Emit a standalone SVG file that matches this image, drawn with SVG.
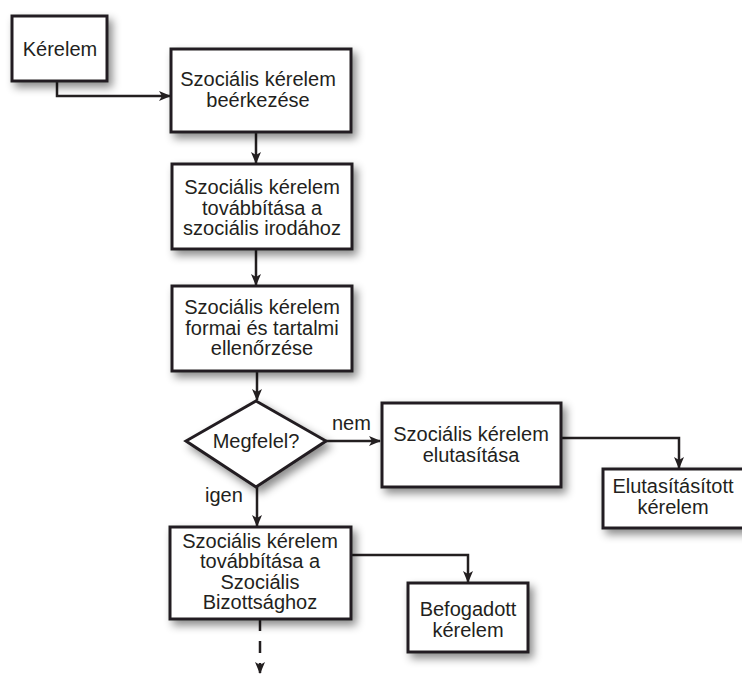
<svg xmlns="http://www.w3.org/2000/svg" width="742" height="674" viewBox="0 0 742 674">
<defs>
<filter id="sh" x="-20%" y="-20%" width="150%" height="160%">
<feDropShadow dx="4" dy="5" stdDeviation="4" flood-color="#000" flood-opacity="0.45"/>
</filter>
<marker id="ah" markerWidth="12" markerHeight="12" viewBox="0 0 12 12" refX="11" refY="6" orient="auto" markerUnits="userSpaceOnUse">
<path d="M0,1 L12,6 L0,11 L3,6 Z" fill="#231f20"/>
</marker>
</defs>
<style>
.box{fill:#fff;stroke:#231f20;stroke-width:3;filter:url(#sh)}
.t{font-family:"Liberation Sans",Arial,sans-serif;font-size:20px;fill:#231f20;text-anchor:middle}
.l{font-family:"Liberation Sans",Arial,sans-serif;font-size:20px;fill:#231f20}
.c{fill:none;stroke:#231f20;stroke-width:2.5;marker-end:url(#ah)}
.d{fill:none;stroke:#231f20;stroke-width:2.5;stroke-dasharray:12 10;marker-end:url(#ah)}
</style>
<rect width="742" height="674" fill="#fff"/>
<g id="connectors">
<path class="c" d="M57,81 V96 H170"/>
<path class="c" d="M256,132 V163"/>
<path class="c" d="M256,249 V285"/>
<path class="c" d="M257,371 V400"/>
<path class="c" d="M326,441 H380"/>
<path class="c" d="M561,438 H679 V468"/>
<path class="c" d="M257,487 V526"/>
<path class="c" d="M350,555 H468 V582"/>
<path class="d" d="M260,619 V673"/>
</g>
<g id="n-kerelem">
<rect class="box" x="12" y="16" width="95" height="65"/>
<text class="t" x="60" y="56">Kérelem</text>
</g>
<g id="n-beerkezes">
<rect class="box" x="171" y="49" width="180" height="83"/>
<text class="t" x="258" y="86">Szociális kérelem</text>
<text class="t" x="258" y="107">beérkezése</text>
</g>
<g id="n-tovabbitas-iroda">
<rect class="box" x="172" y="164" width="180" height="85"/>
<text class="t" x="262" y="194">Szociális kérelem</text>
<text class="t" x="262" y="214.5">továbbítása a</text>
<text class="t" x="262" y="235">szociális irodához</text>
</g>
<g id="n-ellenorzes">
<rect class="box" x="172" y="286" width="180" height="85"/>
<text class="t" x="262" y="314">Szociális kérelem</text>
<text class="t" x="262" y="334.5">formai és tartalmi</text>
<text class="t" x="262" y="355">ellenőrzése</text>
</g>
<g id="n-megfelel">
<polygon class="box" points="256,401 326,441 256,487 186,441"/>
<text class="t" x="256" y="448">Megfelel?</text>
</g>
<g id="n-elutasitas">
<rect class="box" x="382" y="403" width="179" height="84"/>
<text class="t" x="471" y="441">Szociális kérelem</text>
<text class="t" x="471" y="462">elutasítása</text>
</g>
<g id="n-elutasitott">
<rect class="box" x="603" y="469" width="160" height="59"/>
<text class="t" x="673" y="493">Elutasításított</text>
<text class="t" x="673" y="514">kérelem</text>
</g>
<g id="n-bizottsag">
<rect class="box" x="170" y="527" width="181" height="92"/>
<text class="t" x="260" y="547.5">Szociális kérelem</text>
<text class="t" x="260" y="568">továbbítása a</text>
<text class="t" x="260" y="588.5">Szociális</text>
<text class="t" x="260" y="609">Bizottsághoz</text>
</g>
<g id="n-befogadott">
<rect class="box" x="408" y="583" width="120" height="69"/>
<text class="t" x="468" y="616">Befogadott</text>
<text class="t" x="468" y="636.5">kérelem</text>
</g>
<text class="l" x="332" y="430">nem</text>
<text class="l" x="205" y="502">igen</text>
</svg>
